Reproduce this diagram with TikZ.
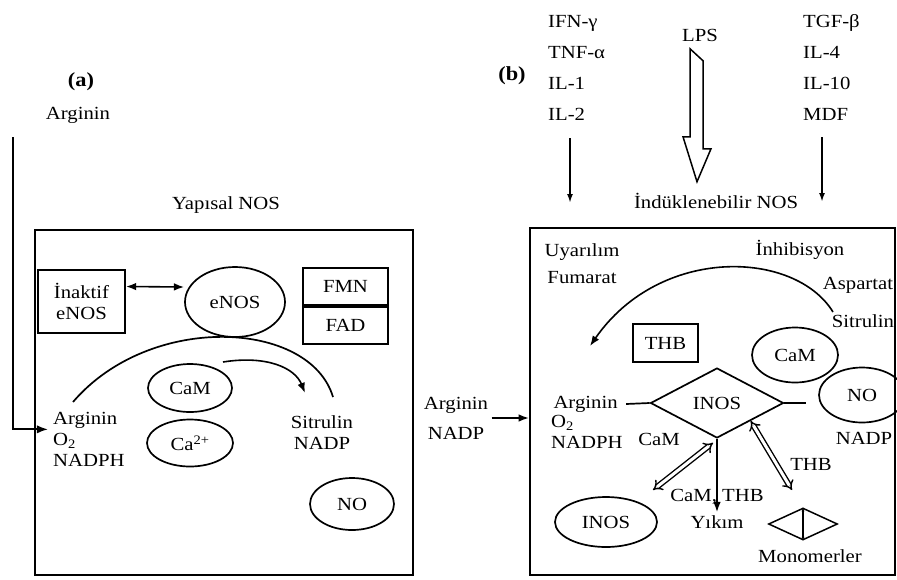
\documentclass[tikz,border=0pt]{standalone}
\usepackage{fontspec}
\setmainfont{Liberation Serif}[FakeStretch=1.12]
\usetikzlibrary{arrows.meta, calc, positioning, shapes.geometric}

\begin{document}
\begin{tikzpicture}[
    x=1pt, y=-1pt,
    >=Latex,
    font=\fontsize{18.5}{21}\selectfont,
    panel/.style={draw, line width=2.4pt, inner sep=0pt},
    enz/.style={draw, ellipse, line width=1.7pt, inner sep=0pt},
    cof/.style={draw, line width=2pt, inner sep=0pt, align=center},
    tag/.style={font=\fontsize{20}{24}\selectfont\bfseries},
    flow/.style={->, line width=1.6pt},
    thinflow/.style={-{Latex[length=9pt,width=6pt]}, line width=2pt},
    equil/.style={{Implies}-{Implies}, double, double distance=3pt, line width=1.4pt}
]
\useasboundingbox (0,0) rectangle (897,579);

% (a) yapisal NOS
\node[tag] (tagA) at (81,82) {(a)};
\node (argTop) at (78,115) {Arginin};
\node (yapTitle) at (226,205) {Yapısal NOS};
\node[panel, minimum width=378pt, minimum height=345pt] (lbox) at (224,402.5) {};

\node[cof, minimum width=87pt, minimum height=63pt] (inakt) at (81.5,301.5) {İnaktif\\eNOS};
\node[enz, minimum width=100pt, minimum height=70pt] (enos) at (235,302) {eNOS};
\node[cof, minimum width=85pt, minimum height=37pt] (fmn) at (345.5,286.5) {FMN};
\node[cof, minimum width=85pt, minimum height=37pt, below=0pt of fmn] (fad) {FAD};
\draw[<->, line width=1.6pt] ([yshift=15pt]inakt.east) -- ([yshift=15pt]enos.west);

\node[enz, minimum width=84pt, minimum height=48pt] (cam1) at (190,388) {CaM};
\node[enz, minimum width=86pt, minimum height=47pt] (ca) at (190,443) {Ca\textsuperscript{2+}};
\node[anchor=north west, align=left, inner sep=1pt] (argL) at (52,411) {Arginin\\O\textsubscript{2}\\NADPH};
\node[align=center] (sit1) at (322,433) {Sitrulin\\NADP};
\node[enz, minimum width=84pt, minimum height=52pt] (no1) at (352,504) {NO};

\coordinate (arcA) at (73,402);
\coordinate (arcB) at (333,397);
\draw[line width=1.7pt] (arcA) .. controls (150,312) and (310,320) .. (arcB);
\coordinate (arcC) at (223,362);
\coordinate (arcD) at (305,393);
\draw[flow] (arcC) .. controls (267,355) and (295,368) .. (arcD);

\coordinate (aTop) at (13,137);
\draw[flow, line width=1.8pt] (aTop) |- ([xshift=-4pt, yshift=10pt]argL.west);

% (b) indüklenebilir NOS
\node[tag] (tagB) at (512,76) {(b)};
\node[anchor=north west, align=left, inner sep=0pt, font=\fontsize{18.5}{31}\selectfont] (ifn) at (548,15) {IFN-γ\\TNF-α\\IL-1\\IL-2};
\node[anchor=north west, align=left, inner sep=0pt, font=\fontsize{18.5}{31}\selectfont] (tgf) at (803,14) {TGF-β\\IL-4\\IL-10\\MDF};
\node (lps) at (700,35) {LPS};
\draw[line width=1.5pt] ($(lps.south)+(-10,4)$) -- ++(0,88) -- ++(-7,0) -- ($(lps.south)+(-3,137)$)
    -- ++(14,-33) -- ++(-8,0) -- ++(0,-88) -- cycle;
\node (indTitle) at (716,201) {İndüklenebilir NOS};

\coordinate (ifnA) at (570,138);
\coordinate (ifnB) at (570,203);
\coordinate (mdfA) at (822,137);
\coordinate (mdfB) at (822,202);
\draw[thinflow] (ifnA) -- (ifnB);
\draw[thinflow] (mdfA) -- (mdfB);

\node[panel, minimum width=365pt, minimum height=347pt] (rbox) at (712.5,401.5) {};

\node[align=center] (argM) at (456,418) {Arginin\\[9pt]NADP};
\draw[flow] (argM.east) -- (argM.east -| rbox.west);

\node[align=center] (uyar) at (582,264) {Uyarılım\\[6pt]Fumarat};
\node (inhib) at (800,250) {İnhibisyon};
\node (asp) at (858,285) {Aspartat};
\node (sit2) at (863,321) {Sitrulin};
\coordinate (arcR) at (833,312);
\coordinate (arcL) at (590,346);
\draw[flow] (arcR) .. controls (795,250) and (660,245) .. (arcL);

\node[cof, minimum width=65pt, minimum height=38pt] (thb) at (665.5,343) {THB};
\node[enz, minimum width=86pt, minimum height=55pt] (cam2) at (795,355) {CaM};
\node[enz, minimum width=86pt, minimum height=55pt] (no2) at (862,395) {NO};
\node (nadp2) at (864,438) {NADP};

\node[diamond, draw, line width=1.7pt, minimum width=133pt, minimum height=70pt, inner sep=0pt] (inos) at (717,403) {INOS};
\node[anchor=west] (argR) at (550,404) {Arginin};
\node[anchor=north west, align=left, inner sep=1pt] (o2R) at (550,414) {O\textsubscript{2}\\NADPH};
\draw[line width=1.7pt] ([xshift=5pt]argR.east) -- (inos.west);
\draw[line width=1.7pt] (inos.east) -- ++(22,0);

\node (camL) at (659,439) {CaM};
\node[enz, minimum width=102pt, minimum height=50pt] (inosB) at (606,522) {INOS};
\coordinate (eqA) at (653,490);
\draw[equil] ($(inos.south)+(-4,4)$) -- (eqA);
\node (cathb) at (717,497) {CaM, THB};
\node (yikim) at (717,522) {Yıkım};
\draw[flow] (inos.south) -- (yikim.north);
\coordinate (eqC) at (792,490);
\draw[equil] ($(inos.south)!0.5!(inos.east)$) -- (eqC);
\node (thbR) at (811,464) {THB};

\node[diamond, draw, line width=1.5pt, minimum width=69pt, minimum height=32pt, inner sep=0pt] (mono) at (803,524) {};
\draw[{Latex[length=4pt]}-{Latex[length=4pt]}, line width=1.3pt] (mono.north) -- (mono.south);
\node (monoLab) at (810,556) {Monomerler};
\end{tikzpicture}
\end{document}
